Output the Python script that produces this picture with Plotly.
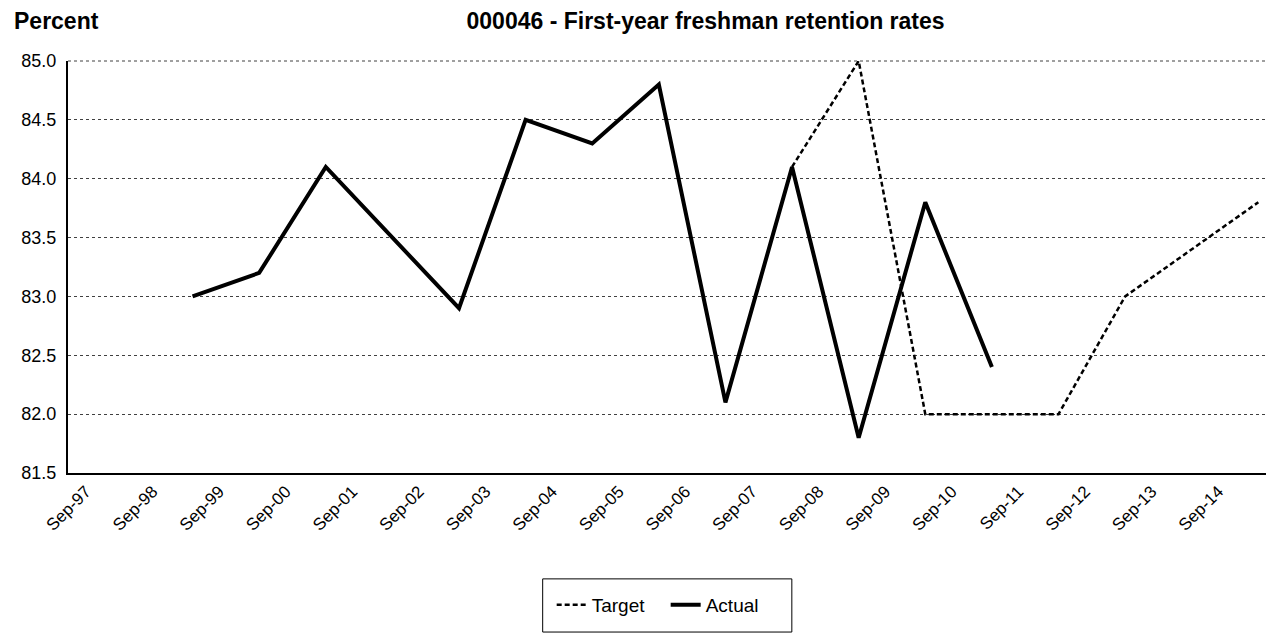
import plotly.graph_objects as go

# fall cohort year -> retention rate (%)
actual_years = [1999, 2000, 2001, 2002, 2003, 2004, 2005, 2006, 2007, 2008, 2009, 2010, 2011]
actual_vals = [83.0, 83.2, 84.1, 83.5, 82.9, 84.5, 84.3, 84.8, 82.1, 84.1, 81.8, 83.8, 82.4]

target_years = [2008, 2009, 2010, 2011, 2012, 2013, 2014, 2015]
target_vals = [84.1, 85.0, 82.0, 82.0, 82.0, 83.0, 83.4, 83.8]

label_years = list(range(1997, 2015))
tick_labels = ["Sep-%02d" % (y % 100) for y in label_years]

font = "Liberation Sans, Arial, sans-serif"

fig = go.Figure()
fig.add_trace(go.Scatter(x=target_years, y=target_vals, mode="lines", name="Target",
                         line=dict(color="black", width=2.5, dash="5px,3px")))
fig.add_trace(go.Scatter(x=actual_years, y=actual_vals, mode="lines", name="Actual",
                         line=dict(color="black", width=4)))

# page body has an 8px margin, so the figure is a bit smaller than the window
fig.update_layout(
    width=1266, height=627,
    margin=dict(l=60, r=7, t=53, b=162),
    plot_bgcolor="white", paper_bgcolor="white",
    font=dict(family=font, color="black", size=16),
    title=dict(text="<b>000046 - First-year freshman retention rates</b>",
               x=0.551, xanchor="center", y=0.979, yanchor="middle",
               font=dict(size=23)),
    legend=dict(orientation="h", x=0.4034, xanchor="left", y=-0.32, yanchor="middle",
                borderwidth=0, font=dict(size=19), bgcolor="rgba(0,0,0,0)",
                entrywidth=69, itemwidth=30),
    annotations=[dict(text="<b>Percent</b>", xref="paper", yref="paper",
                      x=-0.0471, xanchor="left", y=1.097, yanchor="middle",
                      showarrow=False, font=dict(size=23))],
    shapes=[
        dict(type="line", xref="paper", yref="paper", x0=1, x1=1, y0=0, y1=1,
             line=dict(color="#808080", width=1)),
        dict(type="line", xref="paper", yref="paper", x0=0, x1=1, y0=1, y1=1,
             line=dict(color="#404040", width=1, dash="dot")),
        dict(type="rect", xref="paper", yref="paper", x0=0.3959, x1=0.6037,
             y0=-0.386, y1=-0.257, line=dict(color="black", width=1)),
    ],
)

fig.update_xaxes(
    range=[1997.13, 2015.13],
    tickvals=[y + 0.4 for y in label_years], ticktext=tick_labels,
    tickangle=-45, tickfont=dict(size=17),
    showgrid=False, zeroline=False,
    showline=True, linecolor="black", linewidth=2, ticks="",
)
fig.update_yaxes(
    range=[81.5, 85.0], dtick=0.5, tickformat=".1f", tickfont=dict(size=18),
    ticklabelstandoff=6,
    showgrid=True, gridcolor="#404040", gridwidth=1, griddash="dot",
    zeroline=False, showline=True, linecolor="black", linewidth=2, ticks="",
)

fig.write_html("out.html")
